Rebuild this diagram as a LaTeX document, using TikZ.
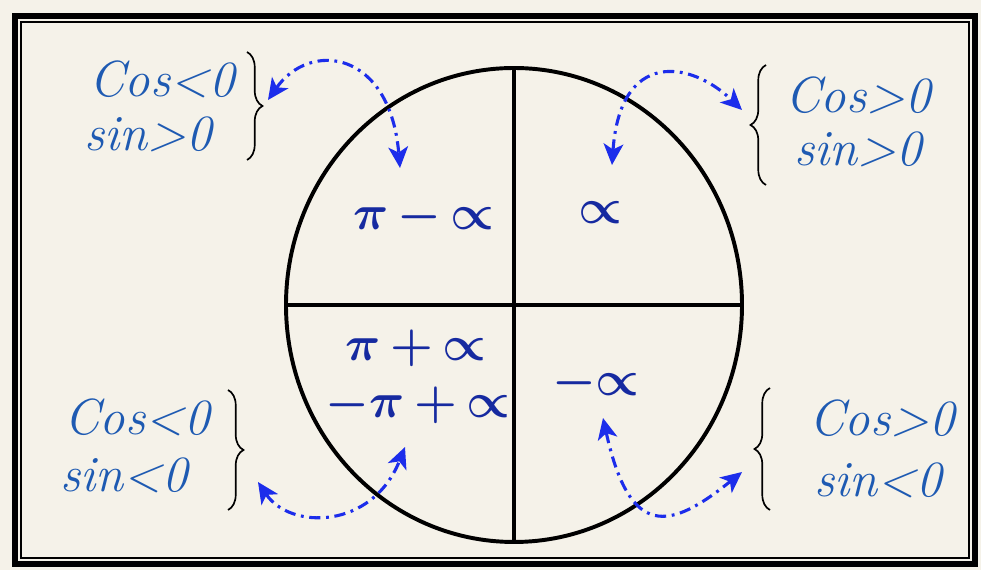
\documentclass[tikz,border=0pt]{standalone}
\usepackage{fontspec}
\usetikzlibrary{arrows.meta,calc,decorations.pathreplacing}

\definecolor{paper}{RGB}{245,242,233}
\definecolor{condblue}{RGB}{30,90,178}
\definecolor{quadblue}{RGB}{22,42,160}
\definecolor{linkblue}{RGB}{28,45,235}

\tikzset{
  cond/.style={text=condblue, font=\Huge\itshape, scale=1.45, inner sep=0pt},
  quad/.style={text=quadblue, font=\Huge\boldmath, scale=1.4, inner sep=0pt},
  link/.style={linkblue, line width=2.2pt, dash pattern=on 8pt off 4pt on 2pt off 4pt,
    {Stealth[length=15pt,width=14pt,inset=4pt]}-{Stealth[length=15pt,width=14pt,inset=4pt]}},
  curly/.style={decorate, decoration={brace, amplitude=11pt}, line width=1.2pt},
}

\begin{document}
\begin{tikzpicture}[x=0.025cm, y=0.025cm]
    % paper and frame
    \fill[paper] (0,0) rectangle (981,570);
    \draw[line width=3.6pt] (15,6) rectangle (975,554);
    \draw[line width=1pt] (21,12) rectangle (969,548);

    % circle and axes
    \coordinate (o) at (514,265);
    \draw[line width=2.8pt] (o) ellipse [x radius=228, y radius=237];
    \draw[line width=2.6pt] ($(o)+(-228,0)$) -- ($(o)+(228,0)$);
    \draw[line width=2.6pt] ($(o)+(0,237)$) -- ($(o)+(0,-237)$);

    % angles in each quadrant
    \node[quad] (q2) at (424,353) {$\pi\,{-}\,{\propto}$};
    \node[quad] (q1) at (600,357) {$\propto$};
    \node[quad] (q3a) at (416,222) {$\pi\,{+}\,{\propto}$};
    \node[quad] (q3b) at (418,165) {${-}\pi\,{+}\,{\propto}$};
    \node[quad] (q4) at (596,187) {${-}{\propto}$};

    % sign conditions
    \node[cond] (tlcos) at (162,491) {Cos<0};
    \node[cond] (tlsin) at (148,436) {sin>0};
    \node[cond] (trcos) at (858,475) {Cos>0};
    \node[cond] (trsin) at (858,421) {sin>0};
    \node[cond] (blcos) at (137,153) {Cos<0};
    \node[cond] (blsin) at (124,95) {sin<0};
    \node[cond] (brcos) at (882,152) {Cos>0};
    \node[cond] (brsin) at (878,90) {sin<0};

    \draw[curly] (247,518) -- (247,410);
    \draw[curly] (766,385) -- (766,505);
    \draw[curly] (228,180) -- (228,60);
    \draw[curly] (770,60) -- (770,182);

    % links
    \coordinate (a1) at (268,470);
    \coordinate (b1) at (400,402);
    \coordinate (a2) at (612,405);
    \coordinate (b2) at (742,460);
    \coordinate (a3) at (258,88);
    \coordinate (b3) at (405,123);
    \coordinate (a4) at (603,152);
    \coordinate (b4) at (742,98);
    \draw[link] (a1) .. controls (310,530) and (390,520) .. (b1);
    \draw[link] (a2) .. controls (620,520) and (690,510) .. (b2);
    \draw[link] (a3) .. controls (290,40) and (372,40) .. (b3);
    \draw[link] (a4) .. controls (630,30) and (670,40) .. (b4);
\end{tikzpicture}
\end{document}
